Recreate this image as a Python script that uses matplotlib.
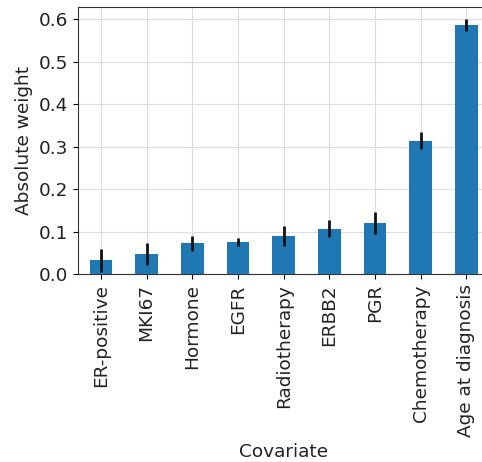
import matplotlib
matplotlib.use("Agg")
import matplotlib.pyplot as plt
import numpy as np

covariates = ["ER-positive", "MKI67", "Hormone", "EGFR", "Radiotherapy",
              "ERBB2", "PGR", "Chemotherapy", "Age at diagnosis"]
weights = [0.033, 0.049, 0.073, 0.076, 0.091, 0.108, 0.120, 0.314, 0.587]
errors = [0.027, 0.026, 0.018, 0.009, 0.023, 0.020, 0.026, 0.020, 0.014]

fig = plt.figure(figsize=(4.82, 4.62), dpi=100)
ax = fig.add_axes([0.162, 0.406, 0.853, 0.578])
x = np.arange(len(covariates))
ax.bar(x, weights, width=0.5, color="#1f77b4", yerr=errors,
       error_kw=dict(ecolor="#111111", elinewidth=2, capsize=0), zorder=3)
ax.set_xlim(-0.5, len(covariates) - 0.5)
ax.set_ylim(0, 0.628)
ax.set_yticks([0, 0.1, 0.2, 0.3, 0.4, 0.5, 0.6])
ax.set_xticks(x)
ax.set_xticklabels(covariates, rotation=90, fontsize=13.3, color="#222222")
ax.tick_params(axis="y", labelsize=13.3, labelcolor="#222222")
ax.grid(True, color="#dddddd", linewidth=0.8, zorder=0)
ax.set_axisbelow(True)
ax.set_xlabel("Covariate", fontsize=13.3, color="#222222")
ax.set_ylabel("Absolute weight", fontsize=13.3, color="#222222")
for s in ax.spines.values():
    s.set_color("#333333")
fig.savefig("out.png", dpi=100)
